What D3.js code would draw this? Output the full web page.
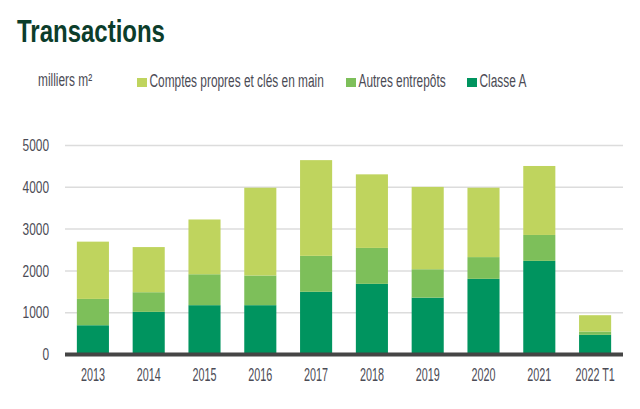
<!DOCTYPE html>
<html>
<head>
<meta charset="utf-8">
<script src="https://cdn.jsdelivr.net/npm/d3@7"></script>
<style>
  body { margin: 0; background: #fff; }
  text { font-family: "Liberation Sans Narrow", "Liberation Sans", sans-serif; }
</style>
</head>
<body>
<svg id="chart" width="640" height="409"></svg>
<script>
// Données (milliers m²)
const annees = ["2013", "2014", "2015", "2016", "2017", "2018", "2019", "2020", "2021", "2022 T1"];
const classeA = [700, 1020, 1180, 1180, 1500, 1690, 1360, 1810, 2240, 470];
const autres = [630, 470, 740, 710, 860, 860, 680, 520, 620, 80];
const comptesPropres = [1370, 1080, 1310, 2100, 2290, 1760, 1970, 1660, 1650, 390];
const yTicks = [0, 1000, 2000, 3000, 4000, 5000];

const series = [
    { nom: "Classe A", valeurs: classeA, couleur: "#00945f" },
    { nom: "Autres entrepôts", valeurs: autres, couleur: "#7dbf5a" },
    { nom: "Comptes propres et clés en main", valeurs: comptesPropres, couleur: "#bfd45e" }
];

const svg = d3.select("#chart");
const gris = "#4b4b55";

const x = d3.scaleBand()
    .domain(annees)
    .range([65, 623])
    .paddingInner(0.425)
    .paddingOuter(0.2125);

const y = d3.scaleLinear()
    .domain([0, 5000])
    .range([354.5, 145.5]);

// Titre
svg.append("text")
    .attr("x", 17)
    .attr("y", 42)
    .attr("font-size", 32)
    .attr("font-weight", "bold")
    .attr("fill", "#0c3d2b")
    .attr("data-sx", 0.75)
    .attr("class", "narrow")
    .text("Transactions");

svg.append("text")
    .attr("x", 38)
    .attr("y", 86)
    .attr("font-size", 18)
    .attr("fill", gris)
    .attr("class", "narrow")
    .text("milliers m²");

// Légende
const legende = [
    { nom: "Comptes propres et clés en main", couleur: "#bfd45e", x: 137 },
    { nom: "Autres entrepôts", couleur: "#7dbf5a", x: 346 },
    { nom: "Classe A", couleur: "#00945f", x: 467 }
];
legende.forEach(l => {
    svg.append("rect")
        .attr("x", l.x)
        .attr("y", 78)
        .attr("width", 10)
        .attr("height", 9)
        .attr("fill", l.couleur);
    svg.append("text")
        .attr("x", l.x + 12.5)
        .attr("y", 87)
        .attr("font-size", 18)
        .attr("fill", gris)
        .attr("class", "narrow")
        .text(l.nom);
});

// Grille
svg.append("g")
    .selectAll("line")
    .data(yTicks.slice(1))
    .join("line")
    .attr("x1", 65)
    .attr("x2", 623)
    .attr("y1", d => y(d))
    .attr("y2", d => y(d))
    .attr("stroke", "#dcdcdc")
    .attr("stroke-width", 1.5);

// Axe Y
const axeY = svg.append("g")
    .attr("transform", "translate(49,0)")
    .call(d3.axisLeft(y).tickValues(yTicks).tickSize(0).tickPadding(0).tickFormat(d3.format("d")));
axeY.select(".domain").remove();
axeY.attr("font-family", null);
axeY.selectAll("text")
    .attr("font-size", 17)
    .attr("fill", gris)
    .attr("dy", "0.3em")
    .attr("data-sx", 0.7)
    .attr("class", "narrow");

// Barres empilées
const stack = d3.stack()
    .keys(d3.range(series.length))
    .value((d, k) => series[k].valeurs[d]);
const empile = stack(d3.range(annees.length));

svg.append("g")
    .selectAll("g")
    .data(empile)
    .join("g")
    .attr("fill", (d, i) => series[i].couleur)
    .selectAll("rect")
    .data(d => d)
    .join("rect")
    .attr("x", d => x(annees[d.data]))
    .attr("width", x.bandwidth())
    .attr("y", d => y(d[1]))
    .attr("height", d => y(d[0]) - y(d[1]));

// Axe X
svg.append("line")
    .attr("x1", 65)
    .attr("x2", 623)
    .attr("y1", y(0))
    .attr("y2", y(0))
    .attr("stroke", "#454545")
    .attr("stroke-width", 4);

const axeX = svg.append("g")
    .attr("transform", `translate(0,${y(0)})`)
    .call(d3.axisBottom(x).tickSize(0).tickPadding(0));
axeX.select(".domain").remove();
axeX.attr("font-family", null);
axeX.selectAll("text")
    .attr("y", 27)
    .attr("dy", 0)
    .attr("font-size", 18)
    .attr("fill", gris)
    .attr("data-sx", 0.6)
    .attr("class", "narrow");

// compression horizontale (police condensée)
svg.selectAll("text.narrow").each(function () {
    const t = d3.select(this);
    const sx = +(t.attr("data-sx") || 0.66);
    const anchor = window.getComputedStyle(this).textAnchor || "start";
    const bb = this.getBBox();
    let cx = bb.x;
    if (anchor === "middle") cx = bb.x + bb.width / 2;
    if (anchor === "end") cx = bb.x + bb.width;
    t.attr("transform", `translate(${cx},0) scale(${sx},1) translate(${-cx},0)`);
});
</script>
</body>
</html>
